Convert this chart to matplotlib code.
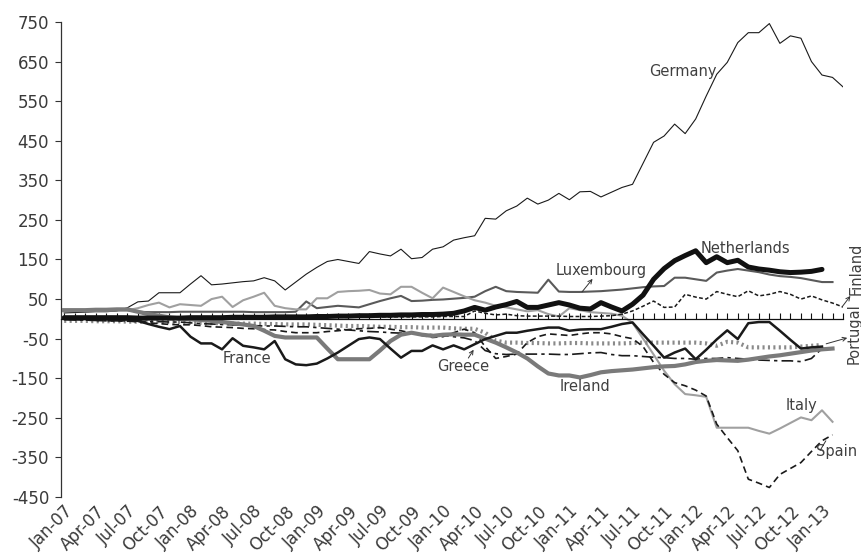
import numpy as np
import matplotlib
matplotlib.use("Agg")
import matplotlib.pyplot as plt

plt.rcParams['font.family'] = ['DejaVu Sans']
plt.rcParams['axes.unicode_minus'] = False

nan = np.nan
months = np.arange(75)  # Jan-07 .. Mar-13
tick_labels = ["Jan-07", "Apr-07", "Jul-07", "Oct-07", "Jan-08", "Apr-08", "Jul-08", "Oct-08",
               "Jan-09", "Apr-09", "Jul-09", "Oct-09", "Jan-10", "Apr-10", "Jul-10", "Oct-10",
               "Jan-11", "Apr-11", "Jul-11", "Oct-11", "Jan-12", "Apr-12", "Jul-12", "Oct-12",
               "Jan-13"]

germany = [15, 16, 17, 18, 18, 20, 28, 43, 45, 66, 66, 66, 88, 109, 86, 88, 91, 94, 96, 104,
           96, 73, 93, 113, 130, 145, 150, 145, 140, 170, 164, 159, 176, 152, 155, 176, 182, 199,
           205, 210, 254, 252, 273, 285, 305, 290, 300, 317, 301, 321, 322, 308, 320, 332, 340,
           393, 446, 462, 492, 468, 505, 563, 618, 648, 698, 723, 723, 746, 696, 715, 709, 650,
           616, 610, 586]
netherlands = [3, 3, 3, 3, 3, 3, 3, 2, 2, 2, 2, 2, 3, 3, 3, 3, 4, 4, 4, 4, 5, 5, 5, 5,
               6, 6, 7, 7, 8, 8, 9, 9, 10, 10, 11, 11, 12, 14, 20, 29, 22, 30, 36, 44, 29, 29,
               35, 41, 35, 27, 25, 41, 30, 20, 37, 60, 100, 127, 147, 160, 172, 142, 157, 142,
               148, 131, 126, 123, 119, 117, 118, 120, 125, nan, nan]
luxembourg = [20, 20, 20, 20, 21, 22, 22, 18, 17, 17, 17, 18, 18, 18, 18, 18, 18, 18, 17, 17,
              17, 17, 18, 44, 27, 30, 33, 31, 29, 37, 45, 52, 58, 45, 46, 48, 49, 51, 53, 56,
              70, 81, 70, 68, 67, 66, 99, 69, 68, 68, 69, 70, 72, 74, 77, 80, 82, 83, 104, 104,
              100, 96, 117, 122, 126, 122, 118, 112, 108, 106, 103, 98, 93, 93, nan]
finland = [0, 0, 1, 1, 1, 1, 1, 1, 2, 2, 2, 2, 2, 2, 2, 3, 3, 3, 3, 3, 3, 3, 4, 4, 4, 4, 4,
           4, 5, 5, 5, 5, 5, 5, 5, 5, 6, 6, 6, 20, 14, 10, 12, 8, 7, 7, 7, 7, 6, 6, 6, 7, 8,
           12, 20, 32, 45, 29, 30, 62, 55, 50, 69, 62, 56, 71, 58, 62, 69, 62, 50, 58, 48, 40,
           30]
italy = [20, 20, 20, 21, 21, 22, 22, 27, 35, 41, 29, 37, 35, 33, 50, 56, 30, 47, 56, 66, 33,
         27, 24, 24, 52, 52, 68, 70, 71, 73, 64, 62, 81, 81, 66, 52, 79, 68, 57, 47, 41, 33,
         29, 24, 19, 22, 12, 6, 27, 22, 17, 15, 13, 8, -10, -50, -90, -131, -165, -190, -193,
         -197, -275, -275, -275, -275, -283, -290, -277, -263, -249, -256, -231, -260, nan]
france = [0, 0, 0, 0, -1, -1, -2, -5, -13, -20, -26, -18, -45, -62, -62, -77, -49, -68, -72,
          -77, -56, -102, -115, -117, -113, -100, -85, -68, -51, -47, -51, -75, -98, -81, -81,
          -67, -77, -67, -77, -64, -51, -43, -35, -35, -30, -26, -22, -22, -30, -27, -26, -26,
          -20, -13, -9, -39, -68, -98, -85, -75, -102, -78, -52, -29, -51, -11, -8, -8, -30,
          -53, -75, -72, -70, nan, nan]
ireland = [22, 22, 22, 23, 23, 24, 24, 18, 12, 8, 4, 1, -1, -3, -5, -8, -11, -14, -18, -30,
           -43, -47, -47, -47, -47, -75, -102, -102, -102, -102, -80, -56, -40, -35, -40, -43,
           -40, -39, -40, -40, -50, -60, -72, -85, -100, -120, -138, -143, -143, -148, -142,
           -135, -132, -130, -128, -125, -122, -120, -119, -115, -109, -106, -104, -105, -106,
           -103, -99, -95, -92, -88, -84, -80, -77, -75, nan]
portugal = [-5, -5, -5, -6, -6, -6, -7, -7, -7, -8, -8, -8, -10, -10, -11, -11, -12, -12, -12,
            -13, -13, -14, -14, -14, -15, -16, -17, -18, -18, -19, -20, -20, -21, -21, -22,
            -22, -22, -24, -25, -25, -35, -55, -60, -60, -61, -61, -62, -62, -61, -61, -62,
            -62, -62, -62, -61, -60, -60, -60, -60, -60, -60, -62, -68, -58, -60, -72, -72,
            -72, -72, -72, -70, -68, -66, nan, nan]
greece = [-2, -3, -3, -4, -5, -5, -6, -6, -7, -7, -8, -8, -10, -12, -13, -14, -15, -16, -17,
          -18, -18, -19, -20, -20, -22, -24, -26, -28, -30, -32, -33, -35, -36, -37, -38, -40,
          -42, -45, -48, -55, -80, -88, -90, -89, -89, -89, -89, -90, -90, -88, -86, -85, -90,
          -93, -93, -95, -97, -98, -100, -100, -102, -100, -100, -98, -100, -102, -104, -105,
          -106, -106, -108, -100, -75, nan, nan]
spain = [0, -2, -3, -4, -5, -5, -5, -8, -10, -12, -14, -15, -15, -17, -20, -21, -22, -24, -25,
         -27, -28, -32, -35, -35, -35, -32, -30, -27, -25, -24, -22, -26, -30, -36, -42, -47,
         -45, -35, -26, -35, -70, -100, -95, -89, -60, -45, -38, -40, -42, -38, -35, -35, -38,
         -45, -50, -70, -110, -140, -161, -169, -180, -195, -266, -300, -333, -405, -415,
         -426, -393, -378, -363, -335, -308, -293, nan]

fig = plt.figure(figsize=(8.62, 5.54), dpi=100)
ax = fig.add_axes([0.0708, 0.1029, 0.9072, 0.8574])

ax.plot(months, germany, color='#1a1a1a', lw=0.8)
ax.plot(months, luxembourg, color='#5a5a5a', lw=1.5)
ax.plot(months, italy, color='#a0a0a0', lw=1.5)
ax.plot(months, finland, color='#1a1a1a', lw=1.1, linestyle=(0, (2.5, 1.5)))
ax.plot(months, portugal, color='#8a8a8a', lw=3.0, linestyle=(0, (0.5, 0.8)))
ax.plot(months, greece, color='#1a1a1a', lw=1.2, linestyle=(0, (7, 2.5, 2, 2.5)))
ax.plot(months, spain, color='#1a1a1a', lw=1.2, linestyle=(0, (4, 2.5)))
ax.plot(months, ireland, color='#7a7a7a', lw=3.0)
ax.plot(months, france, color='#1a1a1a', lw=1.8)
ax.plot(months, netherlands, color='#111111', lw=3.6, solid_capstyle='round')

ax.set_xlim(-0.3, 74)
ax.set_ylim(-450, 750)
ax.set_yticks(np.arange(-450, 751, 100))

for side in ['top', 'right']:
    ax.spines[side].set_visible(False)
ax.spines['left'].set_color('#333333')
ax.spines['left'].set_linewidth(0.9)
ax.spines['bottom'].set_position(('data', 0))
ax.spines['bottom'].set_color('#111111')
ax.spines['bottom'].set_linewidth(0.9)

ax.set_xticks(months)
ax.tick_params(axis='x', direction='in', length=4.5, width=0.8, color='#111111',
               labelbottom=False)
ax.tick_params(axis='y', direction='out', length=4.5, width=0.8, color='#333333',
               labelsize=12, labelcolor='#3a3a3a', pad=4)

sec = ax.secondary_xaxis(0)
sec.set_xticks(months[::3][:len(tick_labels)], labels=tick_labels)
sec.spines['bottom'].set_visible(False)
sec.tick_params(length=0, labelsize=12, labelcolor='#3a3a3a', pad=4)
for lab in sec.get_xticklabels():
    lab.set_rotation(45)
    lab.set_ha('right')
    lab.set_rotation_mode('anchor')

tc = '#404040'
fs = 10.5
arrow = dict(arrowstyle='->', lw=0.7, color='#333333', shrinkA=0, shrinkB=0,
             mutation_scale=7)

ax.text(58.8, 624, "Germany", ha='center', va='center', fontsize=fs, color=tc)
ax.text(64.7, 179, "Netherlands", ha='center', va='center', fontsize=fs, color=tc)
ax.text(51.0, 121, "Luxembourg", ha='center', va='center', fontsize=fs, color=tc)
ax.annotate('', xy=(50.2, 101), xytext=(49.2, 68), arrowprops=arrow)
ax.text(75.2, 126, "Finland", ha='center', va='center', fontsize=fs, color=tc,
        rotation=90)
ax.annotate('', xy=(74.7, 58), xytext=(73.9, 30), arrowprops=arrow, annotation_clip=False)
ax.text(75.1, -38, "Portugal", ha='center', va='center', fontsize=fs, color=tc,
        rotation=90)
ax.annotate('', xy=(74.4, -48), xytext=(72.4, -63), arrowprops=arrow, annotation_clip=False)
ax.text(17.4, -99, "France", ha='center', va='center', fontsize=fs, color=tc)
ax.text(37.9, -121, "Greece", ha='center', va='center', fontsize=fs, color=tc)
ax.annotate('', xy=(38.9, -78), xytext=(38.4, -99), arrowprops=arrow)
ax.text(49.5, -172, "Ireland", ha='center', va='center', fontsize=fs, color=tc)
ax.text(70.1, -220, "Italy", ha='center', va='center', fontsize=fs, color=tc)
ax.text(73.4, -334, "Spain", ha='center', va='center', fontsize=fs, color=tc)
ax.annotate('', xy=(72.5, -302), xytext=(71.7, -338),
            arrowprops=dict(arrowstyle='-', lw=0.7, color='#333333'))

fig.savefig("out.png", dpi=100)
